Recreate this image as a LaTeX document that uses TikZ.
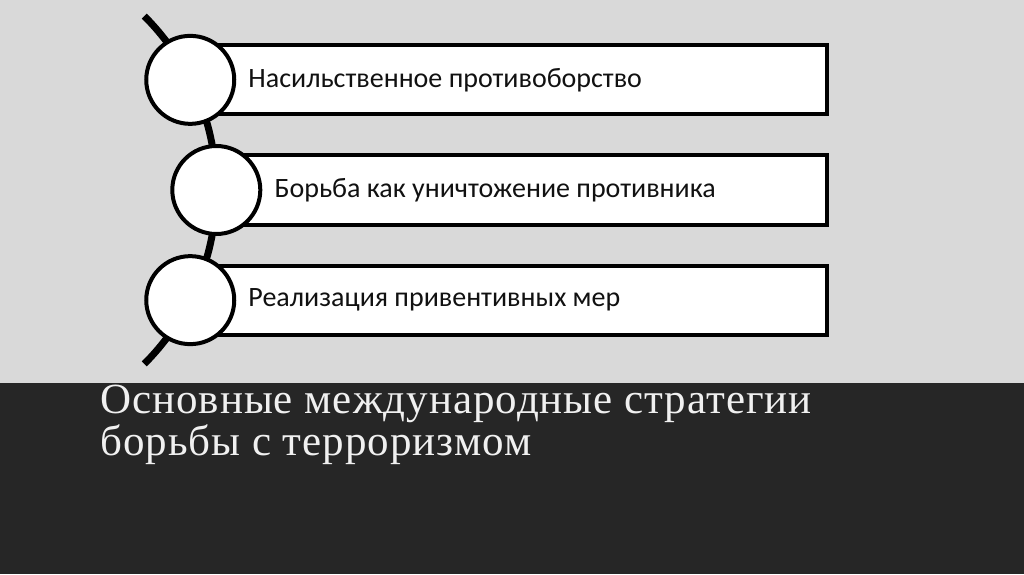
\documentclass[tikz,border=0pt]{standalone}
\usepackage{fontspec}
\setmainfont{Carlito}
\newfontfamily\titlefont[LetterSpace=2.3]{Liberation Serif}
\usetikzlibrary{shapes,calc,positioning}
\definecolor{lightbg}{HTML}{D9D9D9}
\definecolor{darkbg}{HTML}{262626}
\definecolor{titlefg}{HTML}{F0F0F0}
\definecolor{textfg}{HTML}{111111}

\begin{document}
\begin{tikzpicture}[x=1pt, y=1pt, auto,
   step line/.style={line width=7pt},
   stepbox/.style={rectangle, draw, line width=4pt, fill=white, anchor=west,
     minimum height=69pt, inner sep=0pt},
   dot/.style={circle, draw, line width=4pt, fill=white, minimum size=88pt, inner sep=0pt},
   steptext/.style={font=\fontsize{28}{30}\selectfont, text=textfg, inner sep=0pt, anchor=west}]

  \fill[lightbg] (0,0) rectangle (1024,574);
  \fill[darkbg] (0,0) rectangle (1024,191);
  \useasboundingbox (0,0) rectangle (1024,574);

  % the arc through the circles
  \coordinate (hub) at (-29.7,384);
  \coordinate (top) at ($(hub)+(45:246)$);
  \draw[step line] (top) arc[start angle=45, end angle=-45, radius=246];

  \coordinate (p1) at ($(hub)+(26.6:246)$);
  \coordinate (p2) at ($(hub)+(0:246)$);
  \coordinate (p3) at ($(hub)+(-26.6:246)$);

  \node [stepbox, minimum width={825-190}] (b1) at (p1) {};
  \node [stepbox, minimum width={825-216}] (b2) at (p2) {};
  \node [stepbox, minimum width={825-190}] (b3) at (p3) {};

  \node [dot] (c1) at (p1) {};
  \node [dot] (c2) at (p2) {};
  \node [dot] (c3) at (p3) {};

  \node [steptext, right=12pt of c1] (t1) {Насильственное противоборство};
  \node [steptext, right=12pt of c2] (t2) {Борьба как уничтожение противника};
  \node [steptext, right=12pt of c3] (t3) {Реализация привентивных мер};

  \node [anchor=base west, align=left, text=titlefg, inner sep=0pt,
    font={\titlefont\fontsize{43}{40}\selectfont}] (title) at (100,119)
    {Основные международные стратегии\\борьбы с терроризмом};
\end{tikzpicture}
\end{document}
